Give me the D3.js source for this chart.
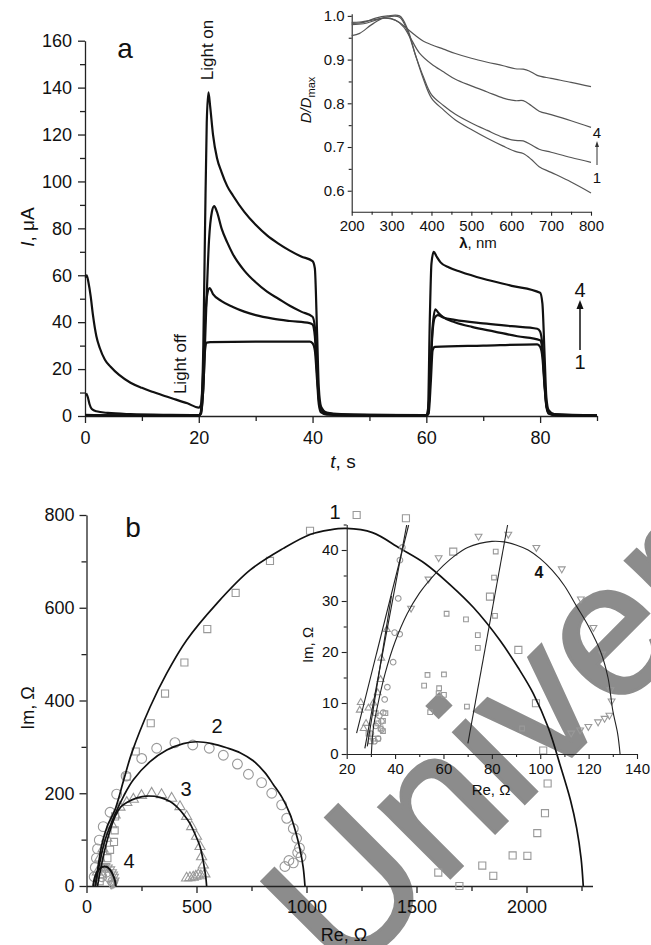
<!DOCTYPE html>
<html>
<head>
<meta charset="utf-8">
<script src="https://cdn.jsdelivr.net/npm/d3@7"></script>
<style>
  body { margin: 0; background: #fff; }
  svg { display: block; }
</style>
</head>
<body>
<div id="chart"></div>
<script>
// figure size
const W = 651, H = 945;
const FONT = "'Liberation Sans', Arial, sans-serif";

// ---------- panel a: photocurrent vs time ----------
const aXTicks = [0, 20, 40, 60, 80];
const aYTicks = [0, 20, 40, 60, 80, 100, 120, 140, 160];

// [t, I] for curves 1..4
const curveA1 = [[0,0.5],[5,0.3],[10,0.2],[20,0.2],[20.4,1],[20.8,12],[21.1,28],[21.4,31.3],[22,31.5],[30,31.7],[39.5,31.7],[40,31],[40.4,28],[40.8,15],[41.1,5],[41.5,1.5],[42.5,0.6],[50,0.2],[60,0.2],[60.4,1],[60.8,15],[61.1,28],[61.5,29.5],[70,30],[79.5,30.5],[80,29.5],[80.4,25],[80.8,12],[81.1,4],[81.5,1],[83,0.3],[90,0.2]];
const curveA2 = [[0,0.3],[10,0.3],[20,0.3],[20.3,1],[20.7,15],[21.1,40],[21.5,52],[21.9,54.5],[22.5,52],[24,49],[26,46.5],[28,44.5],[30,43],[33,41.5],[36,40.5],[39.5,39.6],[40,39],[40.4,34],[40.8,18],[41.1,7],[41.5,2.5],[42.5,1],[45,0.5],[60,0.2],[60.3,1],[60.7,18],[61.1,36],[61.5,42],[62,43],[63,42],[65,41],[70,39.5],[75,38.3],[79.5,37.2],[80,36],[80.4,30],[80.8,14],[81.1,5],[81.5,1.5],[82.5,0.5],[90,0.2]];
const curveA3 = [[0.2,9.7],[0.5,8],[0.8,5],[1.2,3],[2,2],[4,1.3],[8,0.8],[15,0.5],[20,0.4],[20.3,1],[20.8,12],[21.3,45],[21.8,75],[22.3,87],[22.7,89.5],[23.2,87],[24,80],[25,74],[26,69],[28,62],[30,57],[32,53],[34,50],[36,47],[38,44.5],[40,42.3],[40.4,38],[40.8,20],[41.1,8],[41.5,3],[42.5,1.2],[45,0.6],[60,0.3],[60.3,1],[60.7,18],[61.1,38],[61.6,45.5],[62.1,44],[63,42],[65,40],[68,38],[72,36],[76,34],[80,32.3],[80.4,28],[80.8,13],[81.1,4.5],[81.5,1.5],[82.5,0.5],[90,0.2]];
const curveA4 = [[0.1,59],[0.3,60],[0.6,57],[1,51],[1.4,43],[2,34],[2.6,29],[3.5,24],[4.5,21],[6,17.5],[8,14.2],[10,12],[12,10.2],[14,8.5],[16,7],[18,5.4],[20,3.6],[20.4,5],[20.8,30],[21.1,80],[21.4,125],[21.7,138],[22,132],[22.5,120],[23.2,110],[24,104],[25,98],[26,94],[28,87],[30,81.5],[32,77],[34,73.5],[36,70.5],[38,68],[40,66],[40.4,63],[40.8,35],[41.1,12],[41.5,4],[42.5,1.5],[45,0.8],[50,0.5],[60,0.4],[60.3,3],[60.6,40],[60.9,65],[61.3,70],[61.8,68],[62.5,65.5],[64,63.3],[66,61.5],[70,58.5],[75,55.5],[80,52.5],[80.4,48],[80.8,25],[81.1,8],[81.5,2.5],[82.5,0.8],[90,0.3]];

// ---------- inset a: normalised absorbance spectra ----------
const insAXTicks = [200, 300, 400, 500, 600, 700, 800];
const insAYTicks = [0.6, 0.7, 0.8, 0.9, 1.0];
const specA = [[200,0.985],[220,0.986],[250,0.99],[280,0.995],[300,0.993],[320,0.985],[340,0.97],[360,0.955],[380,0.942],[400,0.934],[430,0.924],[460,0.914],[500,0.903],[540,0.894],[580,0.886],[610,0.879],[630,0.878],[645,0.874],[665,0.864],[700,0.857],[750,0.848],[800,0.838]];
const specB = [[200,0.955],[220,0.96],[250,0.98],[280,0.995],[310,0.99],[330,0.975],[350,0.945],[370,0.915],[400,0.89],[430,0.872],[460,0.855],[500,0.84],[540,0.826],[580,0.812],[610,0.806],[630,0.806],[650,0.795],[670,0.782],[700,0.774],[750,0.76],[800,0.745]];
const specC = [[200,0.98],[230,0.982],[260,0.99],[290,0.998],[320,0.997],[340,0.965],[360,0.91],[380,0.86],[400,0.82],[430,0.795],[460,0.775],[500,0.755],[540,0.738],[580,0.722],[610,0.715],[630,0.714],[650,0.705],[670,0.695],[700,0.688],[750,0.676],[800,0.665]];
const specD = [[200,0.983],[230,0.985],[260,0.995],[290,1.0],[320,1.0],[340,0.97],[360,0.91],[380,0.855],[400,0.812],[430,0.785],[460,0.762],[500,0.74],[540,0.72],[580,0.702],[610,0.69],[630,0.685],[650,0.672],[670,0.655],[700,0.642],[750,0.62],[800,0.595]];

// ---------- panel b: Nyquist plots ----------
const bXTicks = [0, 500, 1000, 1500, 2000];
const bYTicks = [0, 200, 400, 600, 800];
// fitted arcs [Re, Im]
const fit1 = [[40,0],[52,40],[70,90],[95,130],[130,165],[170,230],[205,286],[289,386],[365,459],[455,530],[592,609],[743,681],[895,728],[1016,758],[1107,768],[1180,771],[1300,762],[1425,728],[1540,695],[1652,650],[1760,600],[1879,530],[1963,470],[2031,415],[2100,340],[2152,262],[2200,185],[2228,125],[2248,60],[2258,0]];
const fit2 = [[40,0],[60,50],[85,100],[130,155],[170,195],[213,229],[289,268],[365,293],[440,307],[501,311],[570,307],[637,298],[700,287],[758,270],[810,245],[849,219],[890,190],[925,155],[950,118],[970,80],[985,40],[993,0]];
const fit3 = [[50,0],[70,50],[95,100],[130,150],[155,170],[183,180],[230,190],[274,194],[334,191],[380,182],[410,171],[445,152],[470,135],[495,110],[516,85],[532,50],[542,20],[546,0]];
const fit4 = [[30,0],[40,22],[55,35],[70,40.5],[82,42],[95,40.5],[110,33],[122,22],[130,10],[133,0]];
// measured points
const sq1 = [[1228,800],[1452,793],[1016,766],[834,701],[678,632],[549,554],[445,482],[357,415],[292,351],[224,290],[183,236],[130,150],[128,120],[125,95],[107,78],[95,60],[80,40],[70,25],[60,10],[1667,721],[1834,624],[1963,509],[2043,394],[2076,292],[2096,221],[2084,157],[2049,114],[2004,65],[1937,66],[1849,22],[1799,44],[1599,29],[1695,0]];
const circ2 = [[45,60],[50,80],[58,99],[76,128],[107,159],[137,198],[180,237],[251,275],[319,297],[402,309],[483,304],[558,297],[622,282],[686,263],[736,241],[796,223],[842,200],[887,175],[910,146],[940,124],[955,103],[968,82],[975,63],[940,50],[902,42],[920,55],[960,72],[40,40],[35,20],[70,20],[100,20],[120,10],[90,30]];
const tri3 = [[92,103],[115,132],[130,153],[152,170],[183,180],[213,187],[250,195],[296,200],[341,197],[387,189],[425,171],[455,150],[478,128],[500,107],[516,85],[523,63],[531,45],[538,26],[455,17],[470,18],[485,19],[497,21],[508,24],[520,22],[60,60],[75,80],[50,30]];
const dtri4 = [[75,42],[87,43],[98,40],[109,36],[117,30],[122,25],[126,20],[129,12],[120,5],[112,4],[125,7]];

// ---------- inset b: high-frequency region ----------
const insBXTicks = [20, 40, 60, 80, 100, 120, 140];
const insBYTicks = [0, 10, 20, 30, 40];
const insFit4 = [[30.2,0],[31,5],[33,10],[36,16],[40,22],[45,27.5],[50,31.5],[55,34.5],[60,37],[65,39],[70,40.5],[75,41.3],[80,41.7],[85,41.6],[90,41],[95,40],[100,38.3],[105,36],[110,33],[115,29],[120,25],[125,20],[128,15],[130,8.5],[132,4],[133,0]];
const insLines = [
  [[24.1,4.1],[45.6,44.9]],
  [[27.5,1.1],[44.8,44.9]],
  [[28.5,1.5],[38.5,31]],
  [[70.1,2.1],[86.5,44.9]]
];
const insSq = [[81.6,39.7],[80.9,34.6],[81.3,27.1],[69.3,26.4],[61.3,27.5],[74.2,23.3],[74.2,20.8],[53.4,15.5],[60.2,15.6],[52,13.4],[58.2,12.9],[58,11.9],[60.2,11.6],[54.5,8.2],[69.7,9.3],[92.5,5.0],[32,8],[33,6],[34,5],[35,4.5],[31,3],[30,2.5],[29,4],[33,3],[35,6.5],[36,8]];
const insCirc = [[41.3,30.5],[39.8,23.8],[41.9,23.5],[39.2,18],[36.8,13.1],[35.7,10.7],[35.1,8.1],[34.4,6.4],[34.4,4.8],[33,3],[31.5,2.5],[30,4],[32,5.5],[33.5,7.5],[43,40.5],[42,38]];
const insTri = [[25.8,10.1],[25.4,8.6],[34.3,18.8],[34,14.6],[36.6,24.4],[32.8,12],[28,6],[27,5],[29,9],[31,10]];
const insDTri = [[74.5,42.7],[86.8,43.1],[98.4,40.5],[108.9,36.3],[116.8,30.4],[122,24.8],[125.6,19.6],[129,12.6],[129.5,10.4],[128.6,7.6],[126.6,7],[123.9,6.3],[119.9,5.4],[116.5,4.7],[112.8,4.1],[53.8,34.3],[46.6,28.6],[58,38.5]];

const svg = d3.select("#chart").append("svg")
    .attr("width", W)
    .attr("height", H)
    .style("font-family", FONT);

svg.append("rect").attr("width", W).attr("height", H).attr("fill", "#fff");

// watermark sits underneath everything else
svg.append("text")
    .attr("transform", "translate(344,984) rotate(-45)")
    .attr("font-size", 190)
    .attr("fill", "#8c8c8c")
    .attr("stroke", "#8c8c8c")
    .attr("stroke-width", 3)
    .text("Univer");

// draws an axis with major labelled ticks and small minor ticks
function drawAxis(kind, scale, pos, majors, minors, opt) {
    let g = svg.append("g")
        .attr("transform", kind === "bottom" ? `translate(0,${pos})` : `translate(${pos},0)`);
    let ax = (kind === "bottom" ? d3.axisBottom(scale) : d3.axisLeft(scale))
        .tickValues(majors).tickSize(opt.major).tickSizeOuter(0).tickPadding(opt.pad)
        .tickFormat(opt.format || d3.format("d"));
    g.call(ax);
    g.attr("font-family", FONT).attr("font-size", opt.fs);
    g.selectAll("text").attr("fill", "#111");
    g.selectAll("line").attr("stroke", "#222").attr("stroke-width", opt.sw);
    g.select(".domain").attr("stroke", "#222").attr("stroke-width", opt.sw);
    let m = svg.append("g")
        .attr("transform", kind === "bottom" ? `translate(0,${pos})` : `translate(${pos},0)`);
    m.call((kind === "bottom" ? d3.axisBottom(scale) : d3.axisLeft(scale))
        .tickValues(minors).tickSize(opt.minor).tickFormat(""));
    m.select(".domain").remove();
    m.selectAll("line").attr("stroke", "#222").attr("stroke-width", opt.sw);
}

function addText(x, y, str, size, opts) {
    opts = opts || {};
    let t = svg.append("text")
        .attr("transform", `translate(${x},${y})` + (opts.rot ? ` rotate(${opts.rot})` : ""))
        .attr("text-anchor", opts.anchor || "middle")
        .attr("font-size", size)
        .attr("fill", "#111")
        .text(str);
    if (opts.italic) t.attr("font-style", "italic");
    return t;
}

// ================= panel a =================
let xA = d3.scaleLinear().domain([0, 90]).range([85, 597]);
let yA = d3.scaleLinear().domain([0, 160]).range([416, 40.7]);

drawAxis("bottom", xA, 416, aXTicks, [10, 30, 50, 70, 90], { major: 7, minor: 5, pad: 8, fs: 18, sw: 1.3 });
drawAxis("left", yA, 85, aYTicks, [10, 30, 50, 70, 90, 110, 130, 150], { major: 7, minor: 5, pad: 6, fs: 18, sw: 1.3 });

let lineA = d3.line().x(d => xA(d[0])).y(d => yA(d[1])).curve(d3.curveMonotoneX);
[curveA1, curveA2, curveA3, curveA4].forEach(c => {
    svg.append("path").datum(c)
        .attr("d", lineA)
        .attr("fill", "none")
        .attr("stroke", "#111")
        .attr("stroke-width", 2.2)
        .attr("stroke-linejoin", "round");
});

addText(125, 58, "a", 28);
addText(213, 50, "Light on", 17, { rot: -90 });
addText(186, 364, "Light off", 17, { rot: -90 });

// y title: I, μA
let ia = svg.append("text").attr("transform", "translate(34,227) rotate(-90)")
    .attr("text-anchor", "middle").attr("font-size", 19).attr("fill", "#111");
ia.append("tspan").attr("font-style", "italic").text("I");
ia.append("tspan").text(", μA");
let ts = svg.append("text").attr("transform", "translate(343,468)")
    .attr("text-anchor", "middle").attr("font-size", 19).attr("fill", "#111");
ts.append("tspan").attr("font-style", "italic").text("t");
ts.append("tspan").text(", s");

// 1 -> 4 arrow
addText(580, 297, "4", 20);
addText(580, 369, "1", 20);
svg.append("line").attr("x1", 580).attr("x2", 580).attr("y1", 350).attr("y2", 306)
    .attr("stroke", "#111").attr("stroke-width", 1.5);
svg.append("path").attr("d", "M580,300 L576.5,309 L583.5,309 Z").attr("fill", "#111");

// ================= inset a =================
let xIA = d3.scaleLinear().domain([200, 800]).range([351.7, 591]);
let yIA = d3.scaleLinear().domain([0.552, 1.005]).range([211.7, 13.7]);

drawAxis("bottom", xIA, 211.7, insAXTicks, [250, 350, 450, 550, 650, 750], { major: 4, minor: 3, pad: 5, fs: 15, sw: 1.1 });
drawAxis("left", yIA, 351.7, insAYTicks, [0.65, 0.75, 0.85, 0.95], { major: 4, minor: 3, pad: 3, fs: 15, sw: 1.1, format: d3.format(".1f") });

let lineIA = d3.line().x(d => xIA(d[0])).y(d => yIA(d[1])).curve(d3.curveCatmullRom);
[specA, specB, specC, specD].forEach(c => {
    svg.append("path").datum(c)
        .attr("d", lineIA)
        .attr("fill", "none")
        .attr("stroke", "#555")
        .attr("stroke-width", 1.2);
});

addText(597, 138, "4", 15);
addText(597, 183, "1", 15);
svg.append("line").attr("x1", 597).attr("x2", 597).attr("y1", 165).attr("y2", 145)
    .attr("stroke", "#333").attr("stroke-width", 1);
svg.append("path").attr("d", "M597,141 L595,147 L599,147 Z").attr("fill", "#333");

let lam = svg.append("text").attr("transform", "translate(478,248)")
    .attr("text-anchor", "middle").attr("font-size", 15).attr("fill", "#111");
lam.append("tspan").attr("font-weight", "bold").text("λ");
lam.append("tspan").text(", nm");

let dd = svg.append("text").attr("transform", "translate(311,100) rotate(-90)")
    .attr("text-anchor", "middle").attr("font-size", 15).attr("fill", "#111");
dd.append("tspan").attr("font-style", "italic").text("D/D");
dd.append("tspan").attr("font-size", 11).attr("dy", 4).text("max");

// ================= panel b =================
let xB = d3.scaleLinear().domain([0, 2300]).range([86.5, 592.5]);
let yB = d3.scaleLinear().domain([0, 800]).range([886, 515]);

drawAxis("bottom", xB, 886, bXTicks, [250, 750, 1250, 1750, 2250], { major: 7, minor: 5, pad: 7, fs: 18, sw: 1.3 });
drawAxis("left", yB, 86.5, bYTicks, [100, 300, 500, 700], { major: 7, minor: 5, pad: 5, fs: 18, sw: 1.3 });

function markers(data, sx, sy, type, size, rot) {
    svg.append("g").selectAll("path").data(data).enter().append("path")
        .attr("d", d3.symbol().type(type).size(size))
        .attr("transform", d => `translate(${sx(d[0])},${sy(d[1])})` + (rot ? " rotate(180)" : ""))
        .attr("fill", "none")
        .attr("stroke", "#999")
        .attr("stroke-width", 1.1);
}

markers(sq1, xB, yB, d3.symbolSquare, 50);
markers(circ2, xB, yB, d3.symbolCircle, 75);
markers(tri3, xB, yB, d3.symbolTriangle, 45);
markers(dtri4, xB, yB, d3.symbolTriangle, 30, true);

let lineB = d3.line().x(d => xB(d[0])).y(d => yB(d[1])).curve(d3.curveCatmullRom);
[fit1, fit2, fit3].forEach(c => {
    svg.append("path").datum(c)
        .attr("d", lineB)
        .attr("fill", "none")
        .attr("stroke", "#111")
        .attr("stroke-width", 1.7);
});
svg.append("path").datum(fit4).attr("d", lineB)
    .attr("fill", "none").attr("stroke", "#111").attr("stroke-width", 2);

addText(133, 537, "b", 28);
addText(335, 519, "1", 20);
addText(217, 733, "2", 20);
addText(186, 796, "3", 20);
addText(129, 868, "4", 20);

svg.append("text").attr("transform", "translate(34,708) rotate(-90)")
    .attr("text-anchor", "middle").attr("font-size", 18).attr("fill", "#111").text("Im, Ω");
svg.append("text").attr("transform", "translate(344,941)")
    .attr("text-anchor", "middle").attr("font-size", 18).attr("fill", "#111").text("Re, Ω");

// ================= inset b =================
let xIB = d3.scaleLinear().domain([20, 140]).range([346.7, 637]);
let yIB = d3.scaleLinear().domain([0, 45]).range([754, 524.5]);

drawAxis("bottom", xIB, 754, insBXTicks, [30, 50, 70, 90, 110, 130], { major: 5, minor: 3, pad: 4, fs: 15, sw: 1.1 });
drawAxis("left", yIB, 346.7, insBYTicks, [5, 15, 25, 35, 45], { major: 5, minor: 3, pad: 3, fs: 15, sw: 1.1 });

markers(insSq, xIB, yIB, d3.symbolSquare, 22);
markers(insCirc, xIB, yIB, d3.symbolCircle, 25);
markers(insTri, xIB, yIB, d3.symbolTriangle, 20);
markers(insDTri, xIB, yIB, d3.symbolTriangle, 20, true);

let lineIB = d3.line().x(d => xIB(d[0])).y(d => yIB(d[1])).curve(d3.curveCatmullRom);
svg.append("path").datum(insFit4).attr("d", lineIB)
    .attr("fill", "none").attr("stroke", "#222").attr("stroke-width", 1.1);
insLines.forEach(l => {
    svg.append("path").datum(l).attr("d", lineIB)
        .attr("fill", "none").attr("stroke", "#222").attr("stroke-width", 1.1);
});

addText(539, 578, "4", 16).attr("font-weight", "bold");
addText(491, 795, "Re, Ω", 15);
addText(313, 645, "Im, Ω", 15, { rot: -90 });
</script>
</body>
</html>
